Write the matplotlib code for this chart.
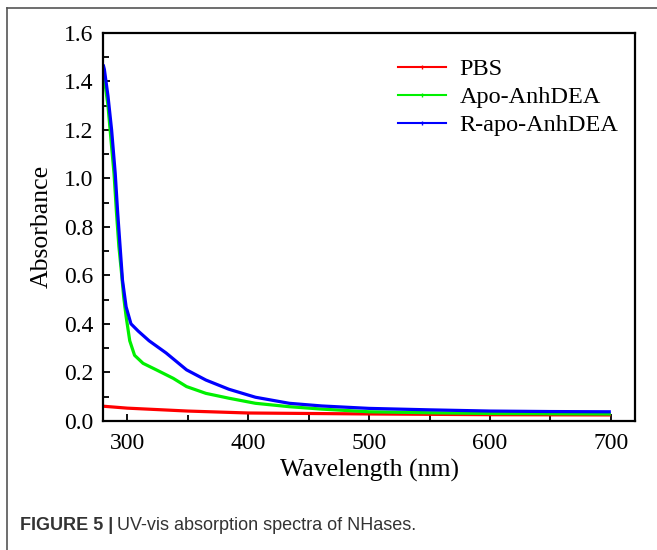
import matplotlib
matplotlib.use('Agg')
import matplotlib.pyplot as plt
from matplotlib.lines import Line2D
from matplotlib.ticker import MultipleLocator, FormatStrFormatter

# wavelength (nm) / absorbance
wl_pbs = [280, 300, 350, 400, 450, 500, 600, 700]
abs_pbs = [0.060, 0.052, 0.040, 0.032, 0.030, 0.028, 0.025, 0.024]

wl_apo = [280, 284, 287, 289, 291, 293, 295, 297, 299, 302, 306, 313, 324, 338,
          349, 365, 384, 406, 434, 461, 500, 550, 600, 650, 700]
abs_apo = [1.45, 1.30, 1.13, 1.02, 0.86, 0.72, 0.62, 0.51, 0.43, 0.33, 0.27, 0.237,
           0.21, 0.175, 0.141, 0.113, 0.093, 0.072, 0.058, 0.048, 0.037, 0.033,
           0.030, 0.029, 0.028]

wl_rapo = [280, 281, 284, 287, 290, 292, 294, 296, 299, 303, 309, 318, 332, 349,
           365, 384, 406, 434, 461, 500, 550, 600, 650, 700]
abs_rapo = [1.47, 1.45, 1.34, 1.20, 1.02, 0.86, 0.72, 0.58, 0.47, 0.40, 0.37, 0.33,
            0.28, 0.21, 0.168, 0.13, 0.097, 0.072, 0.061, 0.051, 0.045, 0.040,
            0.038, 0.037]

labels = ['PBS', 'Apo-AnhDEA', 'R-apo-AnhDEA']
colors = ['#ff0000', '#00f000', '#0000ff']

plt.rcParams['font.family'] = ['Liberation Serif', 'DejaVu Serif']

fig = plt.figure(figsize=(6.57, 5.5), dpi=100)
ax = fig.add_axes([0.157, 0.235, 0.8095, 0.705])

series = [(wl_pbs, abs_pbs), (wl_apo, abs_apo), (wl_rapo, abs_rapo)]
for (x, y), c in zip(series, colors):
    ax.plot(x, y, color=c, lw=2.3, solid_capstyle='butt')

ax.set_xlim(280, 720)
ax.set_ylim(0, 1.6)
ax.xaxis.set_major_locator(MultipleLocator(100))
ax.xaxis.set_minor_locator(MultipleLocator(50))
ax.yaxis.set_major_locator(MultipleLocator(0.2))
ax.yaxis.set_minor_locator(MultipleLocator(0.1))
ax.yaxis.set_major_formatter(FormatStrFormatter('%.1f'))
ax.tick_params(which='both', direction='in', width=1.3, labelsize=17)
ax.tick_params(which='major', length=5)
ax.tick_params(which='minor', length=4)
ax.tick_params(axis='x', pad=9)
ax.tick_params(axis='y', pad=7)
for s in ax.spines.values():
    s.set_linewidth(1.6)

ax.set_xlabel('Wavelength (nm)', fontsize=18.5, labelpad=3)
ax.set_ylabel('Absorbance', fontsize=18.5, labelpad=8)

handles = [Line2D([], [], color=c, lw=1.5, marker='|', markersize=3) for c in colors]
ax.legend(handles, labels, loc='upper left', bbox_to_anchor=(0.554, 0.935),
          frameon=False, fontsize=17.5, handlelength=2.0, handletextpad=0.55,
          labelspacing=0.25, borderpad=0, borderaxespad=0)

# page frame lines (top and left) of the figure panel
fig.add_artist(Line2D([7 / 657, 1], [1 - 8 / 550, 1 - 8 / 550], color='#555555', lw=1.2))
fig.add_artist(Line2D([7 / 657, 7 / 657], [0, 1 - 8 / 550], color='#555555', lw=1.2))

cap_y = 1 - 526 / 550
t1 = fig.text(20 / 657, cap_y, 'FIGURE 5 |', fontsize=13, fontweight='bold',
              color='#333333', family='Liberation Sans', va='center')
fig.canvas.draw()
bb = t1.get_window_extent().transformed(fig.transFigure.inverted())
fig.text(bb.x1 + 4 / 657, cap_y, 'UV-vis absorption spectra of NHases.', fontsize=13,
         color='#333333', family='Liberation Sans', va='center')

fig.savefig('out.png', dpi=100)
